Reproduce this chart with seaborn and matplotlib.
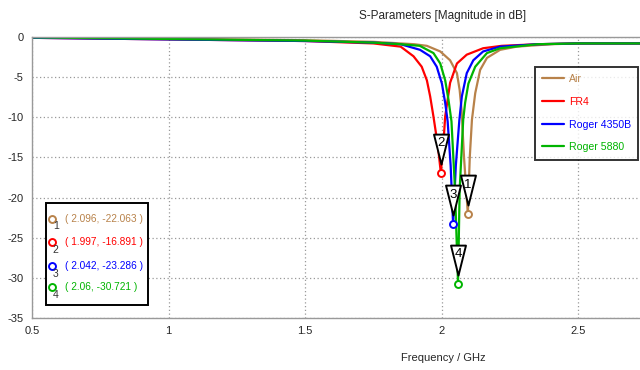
import numpy as np
import pandas as pd
import matplotlib
matplotlib.use("Agg")
import matplotlib.pyplot as plt
from matplotlib.path import Path
from matplotlib.patches import Rectangle
import seaborn as sns

# ====================== data ======================
materials = ["Air", "FR4", "Roger 4350B", "Roger 5880"]
colors = ["#B8824A", "#FF0000", "#0000FF", "#00B400"]

air_f = [0.5, 1.0, 1.5, 1.75, 1.9, 1.946, 1.995, 2.031, 2.056, 2.066, 2.073, 2.082, 2.096,
         2.103, 2.111, 2.123, 2.141, 2.166, 2.214, 2.275, 2.4, 2.5, 2.8]
air_db = [-0.05, -0.2, -0.4, -0.6, -0.9, -1.1, -1.8, -2.9, -4.5, -6.6, -9.1, -15.0, -22.063,
          -15.0, -10.3, -7.0, -4.1, -2.6, -1.6, -1.2, -0.9, -0.8, -0.8]

fr4_f = [0.5, 1.0, 1.5, 1.75, 1.85, 1.897, 1.927, 1.946, 1.958, 1.970, 1.986, 1.997,
         2.006, 2.013, 2.031, 2.056, 2.092, 2.152, 2.22, 2.35, 2.5, 2.8]
fr4_db = [-0.1, -0.3, -0.5, -0.8, -1.2, -2.4, -3.7, -5.4, -7.4, -9.9, -13.5, -16.891,
          -13.5, -9.9, -5.7, -3.3, -2.2, -1.4, -1.1, -0.9, -0.8, -0.8]

r4350_f = [0.5, 1.0, 1.5, 1.75, 1.85, 1.921, 1.958, 1.982, 2.001, 2.013, 2.022, 2.033, 2.042,
           2.052, 2.065, 2.074, 2.092, 2.116, 2.152, 2.214, 2.35, 2.5, 2.8]
r4350_db = [-0.1, -0.3, -0.5, -0.7, -0.9, -1.6, -2.4, -3.7, -5.8, -8.2, -10.5, -16.0, -23.286,
            -16.0, -10.3, -7.4, -4.5, -2.9, -1.8, -1.2, -0.9, -0.8, -0.8]

r5880_f = [0.5, 1.0, 1.5, 1.75, 1.85, 1.92, 1.970, 1.995, 2.013, 2.025, 2.036, 2.049, 2.060,
           2.066, 2.079, 2.086, 2.098, 2.123, 2.166, 2.214, 2.35, 2.5, 2.8]
r5880_db = [-0.05, -0.25, -0.45, -0.7, -0.9, -1.1, -2.0, -3.3, -5.4, -7.8, -10.5, -19.0, -30.721,
            -19.0, -10.3, -8.2, -5.8, -3.7, -2.0, -1.4, -0.9, -0.8, -0.8]

# marker (dip) values as shown in the marker box
dip_f = [2.096, 1.997, 2.042, 2.06]
dip_db = [-22.063, -16.891, -23.286, -30.721]
dip_labels = ["( 2.096, -22.063 )", "( 1.997, -16.891 )", "( 2.042, -23.286 )", "( 2.06, -30.721 )"]
dip_ids = ["1", "2", "3", "4"]

x_ticks = [0.5, 1, 1.5, 2, 2.5]
x_ticklabels = ["0.5", "1", "1.5", "2", "2.5"]
y_ticks = [0, -5, -10, -15, -20, -25, -30, -35]

# ====================== long table for seaborn ======================
frames = []
for name, f, db in zip(materials, [air_f, fr4_f, r4350_f, r5880_f],
                       [air_db, fr4_db, r4350_db, r5880_db]):
    frames.append(pd.DataFrame({"freq": f, "db": db, "material": name}))
df = pd.concat(frames, ignore_index=True)

sns.set_style("white")
plt.rcParams['font.family'] = ['Liberation Sans', 'DejaVu Sans']
plt.rcParams['axes.unicode_minus'] = False

fig = plt.figure(figsize=(6.4, 3.7), dpi=100)
# axes runs past the right edge of the figure (the original screenshot is cropped)
ax = fig.add_axes([32 / 640, 52 / 370, 822 / 640, 281 / 370])

sns.lineplot(data=df, x="freq", y="db", hue="material", hue_order=materials,
             palette=dict(zip(materials, colors)), estimator=None, sort=False,
             linewidth=1.6, ax=ax)

ax.set_xlim(0.5, 3.51)
ax.set_ylim(-35, 0)
ax.set_xticks(x_ticks)
ax.set_xticklabels(x_ticklabels)
ax.set_yticks(y_ticks)
ax.grid(True, color="#999999", linestyle=(0, (1, 2)), linewidth=0.9)
for s in ax.spines.values():
    s.set_color("#999999")
    s.set_linewidth(1.0)
ax.tick_params(axis="both", labelsize=8, length=3, color="#999999", direction="out", pad=3)
ax.set_xlabel("Frequency / GHz", fontsize=8, labelpad=12)
ax.set_ylabel("")
ax.set_title("S-Parameters [Magnitude in dB]", fontsize=8.5, pad=13)

# triangle markers above each dip (white filled, sit on top of the curves)
tri = Path([(-7.5, 39), (7.5, 39), (0, 9), (-7.5, 39)],
           [Path.MOVETO, Path.LINETO, Path.LINETO, Path.CLOSEPOLY])
for i in range(4):
    ax.plot(dip_f[i], dip_db[i], linestyle="none", marker=tri, markersize=56,
            mfc="white", mec="black", mew=1.4, zorder=5 + i * 0.1)
    ax.plot(dip_f[i], dip_db[i], linestyle="none", marker="o", markersize=5,
            mfc="white", mec=colors[i], mew=1.4, zorder=6)
    ax.annotate(dip_ids[i], (dip_f[i], dip_db[i]), xytext=(0, 21),
                textcoords="offset points", ha="center", va="center",
                fontsize=9.5, color="black", zorder=5.05 + i * 0.1)

# material legend
leg = ax.legend(loc="upper left", bbox_to_anchor=(0.612, 0.894), fontsize=7.6,
                frameon=True, fancybox=False, edgecolor="black", labelcolor="linecolor",
                handlelength=2.0, handletextpad=0.5, labelspacing=1.2,
                borderpad=0.7, borderaxespad=0)
leg.get_frame().set_linewidth(1.4)
leg.set_title(None)

# marker value box
ax.add_patch(Rectangle((0.017, 0.046), 0.124, 0.363, transform=ax.transAxes,
                       fill=True, facecolor="white", edgecolor="black", linewidth=1.4, zorder=8))
row_y = [0.354, 0.271, 0.186, 0.111]
for i in range(4):
    ax.plot(0.024, row_y[i], transform=ax.transAxes, marker="o", markersize=5,
            mfc="white", mec=colors[i], mew=1.4, linestyle="none", zorder=9, clip_on=False)
    ax.text(0.029, row_y[i] - 0.028, dip_ids[i], transform=ax.transAxes, fontsize=7.5,
            color="#333333", ha="center", va="center", zorder=9)
    ax.text(0.040, row_y[i], dip_labels[i], transform=ax.transAxes, fontsize=7.3,
            color=colors[i], ha="left", va="center", zorder=9)

fig.savefig("out.png", dpi=100)
